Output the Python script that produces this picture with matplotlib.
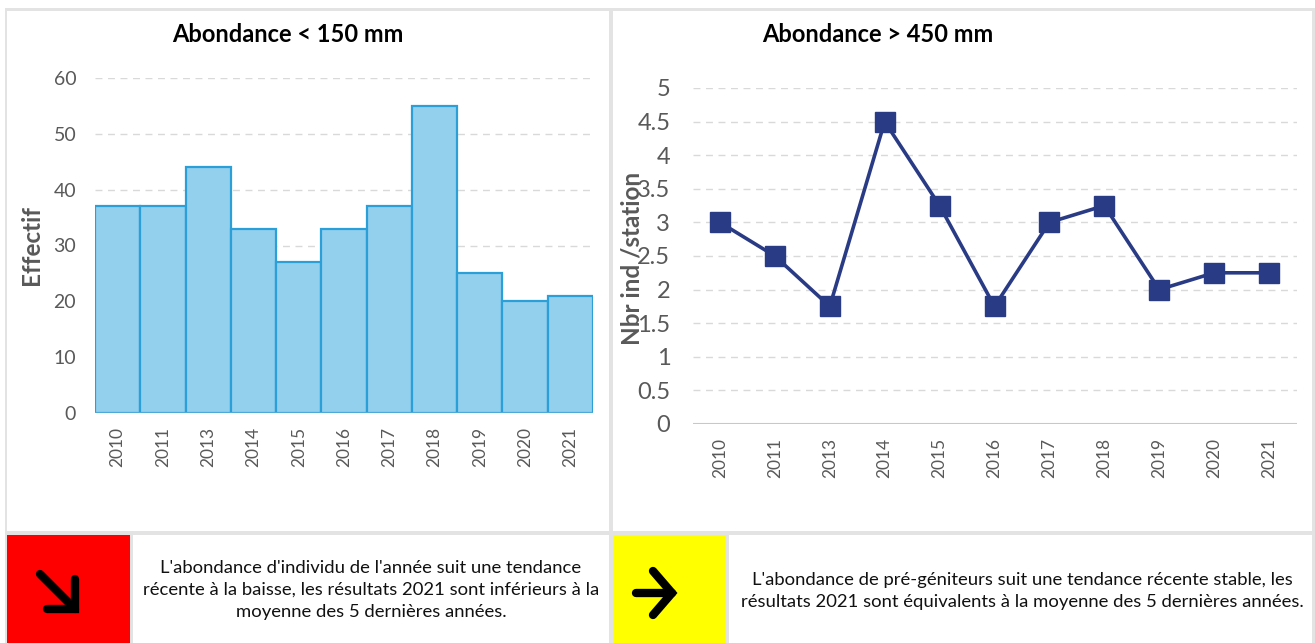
import matplotlib
matplotlib.use("Agg")
import matplotlib.pyplot as plt
from matplotlib.patches import Rectangle

# --------------------------------------------
# Data
# --------------------------------------------
years = ["2010", "2011", "2013", "2014", "2015", "2016", "2017", "2018", "2019", "2020", "2021"]
small_counts = [37, 37, 44, 33, 27, 33, 37, 55, 25, 20, 21]
large_per_station = [3, 2.5, 1.75, 4.5, 3.25, 1.75, 3, 3.25, 2, 2.25, 2.25]

left_title = "Abondance < 150 mm"
right_title = "Abondance > 450 mm"
left_ylabel = "Effectif"
right_ylabel = "Nbr ind /station"
left_text = ("L'abondance d'individu de l'année suit une tendance\n"
             "récente à la baisse, les résultats 2021 sont inférieurs à la\n"
             "moyenne des 5 dernières années.")
right_text = ("L'abondance de pré-géniteurs suit une tendance récente stable, les\n"
              "résultats 2021 sont équivalents à la moyenne des 5 dernières années.")

plt.rcParams['font.family'] = ['Lato', 'DejaVu Sans']

W, H = 1315, 643
fig = plt.figure(figsize=(W / 100, H / 100), dpi=100)
fig.patch.set_facecolor("white")

# --------------------------------------------
# Background layout (pixel coordinates)
# --------------------------------------------
bg = fig.add_axes([0, 0, 1, 1], zorder=0)
bg.set_xlim(0, W)
bg.set_ylim(H, 0)
bg.axis("off")

def box(x0, y0, x1, y1, color):
    bg.add_patch(Rectangle((x0, y0), x1 - x0, y1 - y0, facecolor=color, edgecolor="none"))

box(5, 8, W, H, "#e3e3e3")
box(7, 11, 609, 531, "white")
box(613, 11, 1312, 531, "white")
box(7, 535, 130, H, "#ff0000")
box(133, 535, 609, H, "white")
box(613, 535, 726, H, "#ffff00")
box(729, 535, 1312, H, "white")

# arrows
lw = 6
bg.plot([40, 75], [574, 609], color="black", lw=lw, solid_capstyle="round")
bg.plot([75, 75, 47], [579, 609, 609], color="black", lw=lw,
        solid_capstyle="round", solid_joinstyle="miter")
bg.plot([636, 672], [593, 593], color="black", lw=lw, solid_capstyle="round")
bg.plot([653, 672, 653], [571, 593, 615], color="black", lw=lw,
        solid_capstyle="round", solid_joinstyle="miter")

bg.text(371, 590, left_text, ha="center", va="center", fontsize=13.3,
        color="#111111", linespacing=1.45)
bg.text(1022, 591, right_text, ha="center", va="center", fontsize=13.3,
        color="#111111", linespacing=1.5)

gray = "#595959"

# --------------------------------------------
# Left chart: bars
# --------------------------------------------
ax1 = fig.add_axes([95 / W, 1 - 413 / H, (593 - 95) / W, (413 - 78) / H], zorder=2)
ax1.set_facecolor("none")
x = list(range(len(years)))
ax1.bar(x, small_counts, width=1.0, color="#93d0ee", edgecolor="#2a9fd8",
        linewidth=1.6, zorder=3)
ax1.set_xlim(-0.5, len(years) - 0.5)
ax1.set_ylim(0, 60)
ax1.set_yticks(range(0, 61, 10))
ax1.set_xticks(x)
ax1.set_xticklabels(years, rotation=90)
ax1.tick_params(axis="both", length=0, colors=gray)
ax1.tick_params(axis="x", labelsize=12.5, pad=10)
ax1.tick_params(axis="y", labelsize=14, pad=13.5)
ax1.yaxis.grid(True, color="#d9d9d9", linestyle=(0, (5, 4)), linewidth=1)
ax1.set_axisbelow(True)
for s in ax1.spines.values():
    s.set_visible(False)
ax1.axhline(0, color="#d9d9d9", lw=1, zorder=4)

fig.text(288 / W, 1 - 35 / H, left_title, ha="center", va="center",
         fontsize=17, fontweight="bold")
fig.text(32 / W, 1 - 245 / H, left_ylabel, ha="center", va="center",
         rotation=90, fontsize=17.5, fontweight="bold", color=gray)

# --------------------------------------------
# Right chart: line
# --------------------------------------------
ax2 = fig.add_axes([692.5 / W, 1 - 424 / H, (1296.5 - 692.5) / W, (424 - 88) / H], zorder=2)
ax2.set_facecolor("none")
ax2.plot(x, large_per_station, color="#2a3b85", lw=2.6, marker="s",
         markersize=15, zorder=3)
ax2.set_xlim(-0.5, len(years) - 0.5)
ax2.set_ylim(0, 5)
ax2.set_yticks([0, 0.5, 1, 1.5, 2, 2.5, 3, 3.5, 4, 4.5, 5])
ax2.set_yticklabels(["0", "0.5", "1", "1.5", "2", "2.5", "3", "3.5", "4", "4.5", "5"])
ax2.set_xticks(x)
ax2.set_xticklabels(years, rotation=90)
ax2.tick_params(axis="both", length=0, colors=gray)
ax2.tick_params(axis="x", labelsize=12.5, pad=10)
ax2.tick_params(axis="y", labelsize=17, pad=16)
ax2.yaxis.grid(True, color="#d9d9d9", linestyle=(0, (5, 4)), linewidth=1)
ax2.set_axisbelow(True)
for s in ax2.spines.values():
    s.set_visible(False)
ax2.axhline(0, color="#c8c8c8", lw=1.5, zorder=2)

fig.text(878 / W, 1 - 35 / H, right_title, ha="center", va="center",
         fontsize=17, fontweight="bold")
fig.text(632 / W, 1 - 258 / H, right_ylabel, ha="center", va="center",
         rotation=90, fontsize=17.5, fontweight="bold", color=gray)

fig.savefig("out.png", dpi=100)
